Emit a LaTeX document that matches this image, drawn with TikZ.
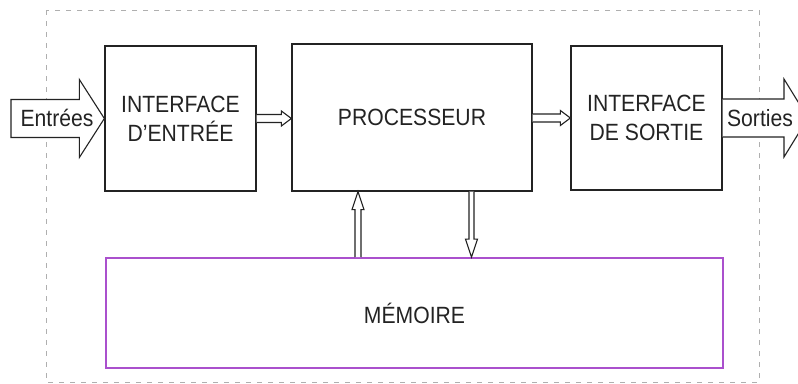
\documentclass[tikz,border=0pt]{standalone}
\usepackage{fontspec}
\setmainfont[FakeStretch=0.9]{Liberation Sans}
\usetikzlibrary{calc}
\definecolor{ink}{RGB}{35,35,35}
\definecolor{memviolet}{RGB}{170,80,205}
\definecolor{frame}{RGB}{175,175,175}
\tikzset{
  blockbox/.style={draw=ink, line width=1.3pt, fill=white, align=center, inner sep=0pt,
    font=\fontsize{23.5}{29}\selectfont, text=ink},
  membox/.style={blockbox, draw=memviolet, line width=1.8pt},
  hollow/.style={draw=ink, line width=1.1pt, fill=white, line join=miter},
  biglabel/.style={font=\fontsize{23.5}{29}\selectfont, text=ink, inner sep=0pt},
}
\begin{document}
\begin{tikzpicture}[x=1pt,y=-1pt]
\useasboundingbox (0,0) rectangle (798,383);
\fill[white] (0,0) rectangle (798,383);
% dashed frame
\draw[frame, line width=0.8pt, dash pattern=on 5pt off 6pt] (46,10) rectangle (759,382);

% blocks
\node[blockbox, minimum width=151pt, minimum height=145pt] (ein) at (180.5,118.5) {INTERFACE\\D’ENTRÉE};
\node[blockbox, minimum width=240pt, minimum height=147pt] (proc) at (412,117.5) {PROCESSEUR};
\node[blockbox, minimum width=151pt, minimum height=144pt] (sout) at (646.5,118) {INTERFACE\\DE SORTIE};
\node[membox, minimum width=617pt, minimum height=110pt] (mem) at (414.5,313) {MÉMOIRE};

% input big arrow
\coordinate (inTail) at (11,118.5);
\draw[hollow] ($(inTail)+(0,-19)$) -- ($(ein.west)+(-25,-19)$) -- ($(ein.west)+(-25,-39)$)
  -- (ein.west) -- ($(ein.west)+(-25,39)$) -- ($(ein.west)+(-25,19)$) -- ($(inTail)+(0,19)$) -- cycle;
\node[biglabel] (entrees) at (57,118) {Entrées};

% output big arrow
\coordinate (outTip) at (808,118);
\draw[hollow] ($(sout.east)+(0,-19)$) -- ($(outTip)+(-24,-19)$) -- ($(outTip)+(-24,-39)$)
  -- (outTip) -- ($(outTip)+(-24,39)$) -- ($(outTip)+(-24,19)$) -- ($(sout.east)+(0,19)$);
\node[biglabel] (sorties) at (760,118) {Sorties};

% entree -> processeur
\coordinate (t1) at (ein.east -| proc.west);
\draw[hollow] ($(ein.east)+(0,-4)$) -- ($(t1)+(-10,-4)$) -- ($(t1)+(-10,-7.5)$) -- (t1)
  -- ($(t1)+(-10,7.5)$) -- ($(t1)+(-10,4)$) -- ($(ein.east)+(0,4)$);

% processeur -> sortie
\coordinate (s2) at (sout.west -| proc.east);
\draw[hollow] ($(s2)+(0,-4)$) -- ($(sout.west)+(-10,-4)$) -- ($(sout.west)+(-10,-7.5)$) -- (sout.west)
  -- ($(sout.west)+(-10,7.5)$) -- ($(sout.west)+(-10,4)$) -- ($(s2)+(0,4)$);

% memoire -> processeur (up)
\coordinate (ux) at (358,0);
\coordinate (upTail) at (ux |- mem.north);
\coordinate (upTip) at (ux |- proc.south);
\draw[hollow] ($(upTail)+(-3,0)$) -- ($(upTip)+(-3,18)$) -- ($(upTip)+(-6,18)$) -- (upTip)
  -- ($(upTip)+(6,18)$) -- ($(upTip)+(3,18)$) -- ($(upTail)+(3,0)$);

% processeur -> memoire (down)
\coordinate (dx) at (471.5,0);
\coordinate (dnTail) at (dx |- proc.south);
\coordinate (dnTip) at (dx |- mem.north);
\draw[hollow] ($(dnTail)+(-2.5,0)$) -- ($(dnTip)+(-2.5,-18)$) -- ($(dnTip)+(-6,-18)$) -- (dnTip)
  -- ($(dnTip)+(6,-18)$) -- ($(dnTip)+(2.5,-18)$) -- ($(dnTail)+(2.5,0)$);
\end{tikzpicture}
\end{document}
